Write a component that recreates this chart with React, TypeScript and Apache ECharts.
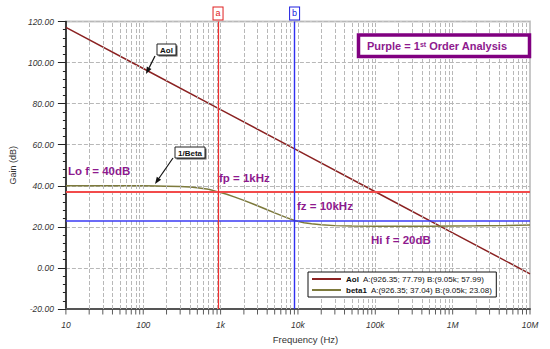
import React, { useEffect, useRef } from "react";
import * as echarts from "echarts";

// ---- data ----
const DECADES = [10, 100, 1000, 10000, 100000, 1000000, 10000000];
const DECADE_LABELS = ["10", "100", "1k", "10k", "100k", "1M", "10M"];
const MINOR_MULTIPLIERS = [2, 3, 4, 5, 6, 7, 8, 9];
const Y_MIN = -20;
const Y_MAX = 120;
const Y_STEP = 20;

const AOL_FREQ = [10, 100, 1000, 10000, 100000, 1000000, 10000000];
const AOL_GAIN = [117.1, 97.1, 77.1, 57.1, 37.1, 17.1, -2.9];

const BETA_FREQ = [10, 20, 50, 100, 150, 200, 300, 400, 500, 700, 926.35, 1200, 1500, 2000, 3000, 4000, 5000, 7000, 9050, 12000, 15000, 20000, 30000, 50000, 100000, 200000, 500000, 1000000, 2000000, 5000000, 10000000];
const BETA_GAIN = [40, 40, 39.99, 39.96, 39.9, 39.83, 39.63, 39.37, 39.05, 38.3, 37.04, 35.9, 34.6, 32.9, 30.3, 28.3, 26.8, 24.6, 23.08, 22.0, 21.5, 21.0, 20.6, 20.4, 20.3, 20.3, 20.3, 20.4, 20.5, 20.7, 20.9];

const CURSOR_A = { f: 926.35, aol: 77.79, beta: 37.04, label: "a", fText: "926.35" };
const CURSOR_B = { f: 9050, aol: 57.99, beta: 23.08, label: "b", fText: "9.05k" };

const FONT = "Liberation Sans, Arial, sans-serif";
const PURPLE = "#8E1A8E";
const GRID_GRAY = "#b8b8b8";

function arrow(x1: number, y1: number, x2: number, y2: number) {
  const dx = x2 - x1, dy = y2 - y1;
  const len = Math.sqrt(dx * dx + dy * dy);
  const ux = dx / len, uy = dy / len;
  const hl = 7, hw = 2.6;
  const bx = x2 - ux * hl, by = y2 - uy * hl;
  const px = -uy * hw, py = ux * hw;
  return [
    { type: "line", shape: { x1, y1, x2: bx, y2: by }, style: { stroke: "#111", lineWidth: 1.2 }, silent: true, z: 100 },
    { type: "polygon", shape: { points: [[x2, y2], [bx + px, by + py], [bx - px, by - py]] }, style: { fill: "#111" }, silent: true, z: 100 },
  ];
}

function labelBox(x: number, y: number, w: number, h: number, text: string) {
  return [
    { type: "rect", shape: { x: x + 1.5, y: y + 1.5, width: w, height: h }, style: { fill: "#555" }, silent: true, z: 100 },
    { type: "rect", shape: { x, y, width: w, height: h }, style: { fill: "#fff", stroke: "#222", lineWidth: 1 }, silent: true, z: 100 },
    { type: "text", style: { x: x + w / 2, y: y + h / 2 + 0.5, text, fill: "#111", font: `bold 8px ${FONT}`, textAlign: "center", textVerticalAlign: "middle" }, silent: true, z: 100 },
  ];
}

export default function App() {
  const ref = useRef<HTMLDivElement>(null);
  useEffect(() => {
    if (!ref.current) return;
    const chart = echarts.init(ref.current, null, { renderer: "svg" });

    const gridFreqs: number[] = [];
    const tickFreqs: number[] = [];
    DECADES.forEach((d, i) => {
      tickFreqs.push(d);
      if (i > 0 && i < DECADES.length - 1) gridFreqs.push(d);
      if (i < DECADES.length - 1) MINOR_MULTIPLIERS.forEach((m) => { gridFreqs.push(d * m); tickFreqs.push(d * m); });
    });

    const purpleText = (x: number, y: number, text: string) => ({
      type: "text",
      style: { x, y, text, fill: PURPLE, font: `bold 11.5px ${FONT}`, textAlign: "left", textVerticalAlign: "middle" },
      silent: true,
      z: 100,
    });

    const option: any = {
      animation: false,
      grid: { left: 55, right: 20, top: 21.5, bottom: 40, show: true, borderColor: "#c8c8c8", borderWidth: 2 },
      xAxis: {
        type: "log",
        logBase: 10,
        min: 10,
        max: 10000000,
        splitNumber: 6,
        name: "Frequency (Hz)",
        nameLocation: "middle",
        nameGap: 25,
        nameTextStyle: { fontFamily: FONT, fontSize: 9.5, color: "#333", padding: [0, 0, 0, 15] },
        axisLine: { show: true, onZero: false, lineStyle: { color: "#555", width: 2 } },
        axisTick: { show: false },
        splitLine: { show: false },
        axisLabel: {
          margin: 11,
          fontFamily: FONT,
          fontSize: 8.5,
          fontStyle: "italic",
          color: "#333",
          formatter: (v: number) => {
            const i = DECADES.findIndex((d) => Math.abs(Math.log10(d) - Math.log10(v)) < 1e-6);
            return i >= 0 ? DECADE_LABELS[i] : "";
          },
        },
      },
      yAxis: {
        type: "value",
        min: Y_MIN,
        max: Y_MAX,
        interval: Y_STEP,
        name: "Gain (dB)",
        nameLocation: "middle",
        nameGap: 41,
        nameTextStyle: { fontFamily: FONT, fontSize: 9, color: "#333" },
        axisLine: { show: true, onZero: false, lineStyle: { color: "#111", width: 1.5 } },
        axisTick: { show: true, length: 8, lineStyle: { color: "#222", width: 1 } },
        minorTick: { show: true, splitNumber: 5, length: 3, lineStyle: { color: "#222", width: 1 } },
        splitLine: { show: true, lineStyle: { color: GRID_GRAY, type: "dashed", width: 1 } },
        axisLabel: {
          margin: 12,
          fontFamily: FONT,
          fontSize: 8.5,
          fontStyle: "italic",
          color: "#333",
          formatter: (v: number) => v.toFixed(2),
        },
      },
      legend: {
        data: ["Aol", "beta1"],
        orient: "vertical",
        left: 308,
        top: 272,
        backgroundColor: "#fff",
        borderColor: "#111",
        borderWidth: 1,
        padding: [2, 4, 2, 4],
        itemGap: 1,
        itemWidth: 29,
        itemHeight: 2,
        icon: "rect",
        selectedMode: false,
        z: 50,
        textStyle: {
          fontFamily: FONT,
          fontSize: 8,
          color: "#111",
          lineHeight: 10,
          rich: {
            n: { fontFamily: FONT, fontSize: 8, fontWeight: "bold", color: "#111" },
            v: { fontFamily: FONT, fontSize: 8, color: "#111" },
          },
        },
        formatter: (name: string) => {
          const isA = name === "Aol";
          const a = isA ? CURSOR_A.aol : CURSOR_A.beta;
          const b = isA ? CURSOR_B.aol : CURSOR_B.beta;
          return `{n|${name}}{v|  A:(${CURSOR_A.fText}; ${a.toFixed(2)}) B:(${CURSOR_B.fText}; ${b.toFixed(2)})}`;
        },
      },
      series: [
        {
          name: "vgrid",
          type: "line",
          data: [[10, Y_MIN], [10000000, Y_MIN]],
          symbol: "none",
          lineStyle: { opacity: 0 },
          silent: true,
          z: 1,
          markLine: {
            silent: true,
            symbol: "none",
            label: { show: false },
            lineStyle: { color: GRID_GRAY, type: "dashed", width: 1 },
            data: gridFreqs.map((f) => ({ xAxis: f })),
          },
        },
        {
          name: "ticks",
          type: "scatter",
          data: tickFreqs.map((f) => [f, Y_MIN]),
          symbol: "rect",
          symbolSize: [1, 5],
          symbolOffset: [0, 3],
          itemStyle: { color: "#333" },
          clip: false,
          silent: true,
          z: 5,
        },
        {
          name: "cursors",
          type: "line",
          data: [[10, Y_MIN], [10000000, Y_MIN]],
          symbol: "none",
          lineStyle: { opacity: 0 },
          silent: true,
          z: 3,
          markLine: {
            silent: true,
            symbol: "none",
            data: [
              { yAxis: CURSOR_A.beta, lineStyle: { color: "#F24B4B", width: 2, type: "solid" }, label: { show: false } },
              { yAxis: CURSOR_B.beta, lineStyle: { color: "#3A3AF5", width: 1.6, type: "solid" }, label: { show: false } },
              {
                xAxis: CURSOR_A.f,
                lineStyle: { color: "#F03030", width: 1.2, type: "solid" },
                label: { show: true, position: "end", formatter: CURSOR_A.label, color: "#E02020", fontFamily: FONT, fontSize: 9, backgroundColor: "#fff", borderColor: "#E02020", borderWidth: 1, padding: [1, 2, 2, 2], distance: 2 },
              },
              {
                xAxis: CURSOR_B.f,
                lineStyle: { color: "#3030F0", width: 1.4, type: "solid" },
                label: { show: true, position: "end", formatter: CURSOR_B.label, color: "#2020E0", fontFamily: FONT, fontSize: 9, backgroundColor: "#fff", borderColor: "#2020E0", borderWidth: 1, padding: [1, 2, 2, 2], distance: 2 },
              },
            ],
          },
        },
        {
          name: "Aol",
          type: "line",
          data: AOL_FREQ.map((f, i) => [f, AOL_GAIN[i]]),
          symbol: "none",
          color: "#8B2222",
          lineStyle: { color: "#8B2222", width: 1.5 },
          z: 4,
        },
        {
          name: "beta1",
          type: "line",
          data: BETA_FREQ.map((f, i) => [f, BETA_GAIN[i]]),
          symbol: "none",
          color: "#7D7A3C",
          lineStyle: { color: "#7D7A3C", width: 1.5 },
          z: 4,
        },
      ],
      graphic: [
        { type: "rect", shape: { x: 358.5, y: 35, width: 171, height: 21.5 }, style: { fill: "#fff", stroke: "#800080", lineWidth: 3.5 }, silent: true, z: 100 },
        {
          type: "text",
          z: 100,
          style: {
            x: 367,
            y: 46,
            text: "{a|Purple = 1}{s|st}{a| Order Analysis}",
            textVerticalAlign: "middle",
            rich: {
              a: { fill: PURPLE, font: `bold 11px ${FONT}` },
              s: { fill: PURPLE, font: `bold 7px ${FONT}`, verticalAlign: "top" },
            },
          },
          silent: true,
        },
        purpleText(68, 171, "Lo f = 40dB"),
        purpleText(219, 178, "fp = 1kHz"),
        purpleText(297, 206, "fz = 10kHz"),
        purpleText(371, 240, "Hi f = 20dB"),
        ...labelBox(157, 44, 19, 11, "Aol"),
        ...arrow(155, 56, 146, 74),
        ...labelBox(175, 147, 30, 11, "1/Beta"),
        ...arrow(173, 158, 155, 184),
      ],
    };
    chart.setOption(option);
    return () => chart.dispose();
  }, []);
  return <div ref={ref} style={{ position: "fixed", left: 0, top: 0, width: 550, height: 349, background: "#fff" }} />;
}
